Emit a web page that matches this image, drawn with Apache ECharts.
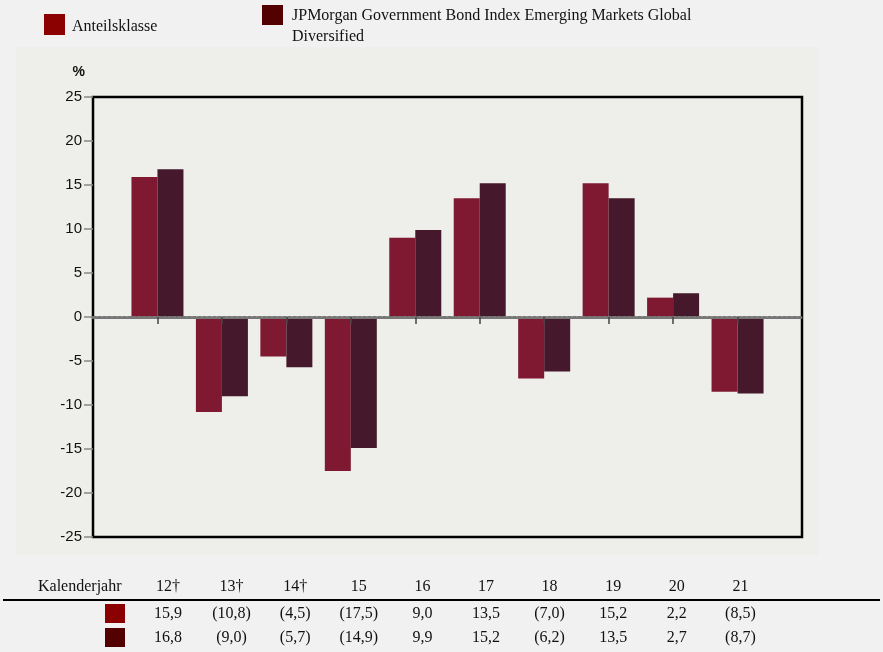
<!DOCTYPE html>
<html>
<head>
<meta charset="utf-8">
<script src="https://cdn.jsdelivr.net/npm/echarts@6/dist/echarts.min.js"></script>
<style>
  html, body { margin: 0; padding: 0; background: #f1f1f1; }
  #chart { width: 883px; height: 652px; }
</style>
</head>
<body>
<div id="chart"></div>
<script>
// Kalenderjahre (leere Ränder links/rechts für die Achse)
const years = ['12†', '13†', '14†', '15', '16', '17', '18', '19', '20', '21'];
const shareClass = [15.9, -10.8, -4.5, -17.5, 9.0, 13.5, -7.0, 15.2, 2.2, -8.5];
const benchmark = [16.8, -9.0, -5.7, -14.9, 9.9, 15.2, -6.2, 13.5, 2.7, -8.7];
const seriesNames = ['Anteilsklasse', 'JPMorgan Government Bond Index Emerging Markets Global\nDiversified'];

const barColors = ['#7e1931', '#45182b'];
const keyColors = ['#8b0000', '#520000'];

const cats = [''].concat(years, ['']);
const pad = (arr) => [null].concat(arr, [null]);

// Zahlen im deutschen Format, negative Werte in Klammern
function fmt(v) {
  const s = Math.abs(v).toFixed(1).replace('.', ',');
  return v < 0 ? '(' + s + ')' : s;
}

const serif = 'Liberation Serif, Times New Roman, serif';
const sans = 'Liberation Sans, Arial, sans-serif';

const graphics = [
  // Hintergrundfläche des Diagramms
  { type: 'rect', z: -10, shape: { x: 16, y: 47, width: 802, height: 508 }, style: { fill: '#eeeeea' } },
  // Legende
  { type: 'rect', shape: { x: 44, y: 14, width: 21, height: 21 }, style: { fill: keyColors[0] } },
  { type: 'text', x: 72, y: 27, style: { text: seriesNames[0], font: '16px ' + serif, fill: '#111', verticalAlign: 'middle' } },
  { type: 'rect', shape: { x: 262, y: 5, width: 21, height: 20 }, style: { fill: keyColors[1] } },
  { type: 'text', x: 292, y: 5, style: { text: seriesNames[1], font: '16px ' + serif, fill: '#111', lineHeight: 21, verticalAlign: 'top' } },
  // Tabelle
  { type: 'text', x: 38, y: 587, style: { text: 'Kalenderjahr', font: '16px ' + serif, fill: '#111', verticalAlign: 'middle' } },
  { type: 'line', shape: { x1: 3, y1: 600, x2: 880, y2: 600 }, style: { stroke: '#000', lineWidth: 2 } },
  { type: 'rect', shape: { x: 105, y: 604, width: 20, height: 19 }, style: { fill: keyColors[0] } },
  { type: 'rect', shape: { x: 105, y: 628, width: 20, height: 19 }, style: { fill: keyColors[1] } }
];

const colX0 = 168, colStep = 63.6;
years.forEach((y, i) => {
  const x = colX0 + i * colStep;
  graphics.push({ type: 'text', x: x, y: 587, style: { text: y, font: '16px ' + serif, fill: '#111', align: 'center', verticalAlign: 'middle' } });
  graphics.push({ type: 'text', x: x, y: 614, style: { text: fmt(shareClass[i]), font: '16px ' + serif, fill: '#111', align: 'center', verticalAlign: 'middle' } });
  graphics.push({ type: 'text', x: x, y: 638, style: { text: fmt(benchmark[i]), font: '16px ' + serif, fill: '#111', align: 'center', verticalAlign: 'middle' } });
});

const chart = echarts.init(document.getElementById('chart'));
chart.setOption({
  backgroundColor: '#f1f1f1',
  animation: false,
  grid: {
    left: 93, top: 97, width: 709, height: 440,
    show: true, borderColor: '#000', borderWidth: 2.5, backgroundColor: 'transparent'
  },
  xAxis: {
    type: 'category',
    data: cats,
    boundaryGap: false,
    z: 5,
    axisLine: { onZero: true, lineStyle: { color: '#777', width: 3, type: [3, 2] } },
    axisTick: {
      show: true, length: 7,
      interval: (idx) => idx > 0 && idx < cats.length - 1,
      lineStyle: { color: '#444', width: 1.5 }
    },
    axisLabel: { show: false },
    splitLine: { show: false }
  },
  yAxis: {
    type: 'value',
    min: -25, max: 25, interval: 5,
    name: '%',
    nameLocation: 'end',
    nameGap: 18,
    nameTextStyle: { fontFamily: sans, fontWeight: 'bold', fontSize: 14, color: '#111', align: 'right', padding: [0, 8, 0, 0] },
    axisLine: { show: false },
    axisTick: { show: true, length: 9, lineStyle: { color: '#888', width: 1.5 } },
    axisLabel: { fontFamily: sans, fontSize: 15, color: '#111', margin: 11 },
    splitLine: { show: false }
  },
  series: [
    { name: 'Anteilsklasse', type: 'bar', data: pad(shareClass), barWidth: 26, barGap: '0%', itemStyle: { color: barColors[0] } },
    { name: 'JPMorgan', type: 'bar', data: pad(benchmark), barWidth: 26, barGap: '0%', itemStyle: { color: barColors[1] } }
  ],
  graphic: graphics
});
</script>
</body>
</html>
